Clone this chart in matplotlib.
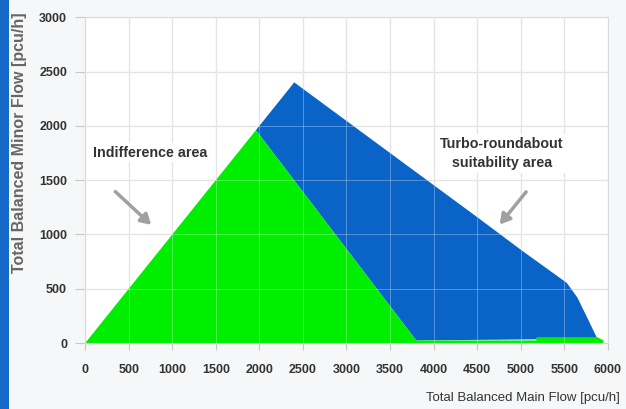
import matplotlib.pyplot as plt
from matplotlib.patches import Rectangle

# Region outlines (main flow, minor flow) in pcu/h
green_x = [0, 1960, 3800, 5180, 5180, 5880, 5950, 5950, 0]
green_y = [0, 1960, 25, 25, 55, 55, 25, 0, 0]

blue_x = [1960, 2400, 3500, 4500, 5000, 5530, 5650, 5760, 5880, 3800]
blue_y = [1960, 2400, 1750, 1160, 860, 554, 420, 240, 40, 25]

x_ticks = [0, 500, 1000, 1500, 2000, 2500, 3000, 3500, 4000, 4500, 5000, 5500, 6000]
y_ticks = [0, 500, 1000, 1500, 2000, 2500, 3000]

green = "#00ee00"
blue = "#0a64c8"

plt.rcParams['font.family'] = ['Liberation Sans', 'DejaVu Sans']

fig = plt.figure(figsize=(6.26, 4.09), dpi=100, facecolor="#f6f7f8")
ax = fig.add_axes([0.136, 0.161, 0.835, 0.797])

# blue bar on the left edge of the slide
fig.patches.append(Rectangle((0, 0), 9 / 626, 1, transform=fig.transFigure,
                             facecolor="#1669c9", edgecolor="none"))

ax.fill(blue_x, blue_y, color=blue, lw=0, zorder=2)
ax.fill(green_x, green_y, color=green, lw=0, zorder=2)

ax.set_xlim(0, 6000)
ax.set_ylim(0, 3000)
ax.set_xticks(x_ticks)
ax.set_yticks(y_ticks)
ax.grid(True, color="#dadada", lw=0.9, zorder=1)
ax.set_axisbelow(True)
for s in ax.spines.values():
    s.set_color("#dadada")
ax.tick_params(axis="both", colors="#c8c8c8", labelcolor="#333333", labelsize=9)
ax.tick_params(axis="y", length=7, pad=6)
ax.tick_params(axis="x", length=5, pad=10)
for lab in ax.get_xticklabels() + ax.get_yticklabels():
    lab.set_fontweight("bold")

# grid lines show through the fills slightly in the original
for xv in x_ticks[1:-1]:
    ax.axvline(xv, color="white", lw=0.6, alpha=0.35, zorder=3)
for yv in y_ticks[1:-1]:
    ax.axhline(yv, color="white", lw=0.6, alpha=0.35, zorder=3)

box = dict(facecolor="white", edgecolor="none", pad=2)
ax.text(746, 1754, "Indifference area", ha="center", va="center", fontsize=10.3,
        fontweight="bold", color="#333333", bbox=box, zorder=4)
ax.text(4784, 1745, "Turbo-roundabout\nsuitability area", ha="center", va="center",
        fontsize=10.3, fontweight="bold", color="#333333", linespacing=1.45,
        bbox=box, zorder=4)

arrow = dict(arrowstyle="-|>,head_length=0.6,head_width=0.35", color="#a0a0a0", lw=2.5)
ax.annotate("", xy=(782, 1071), xytext=(323, 1412), arrowprops=arrow, zorder=4)
ax.annotate("", xy=(4738, 1071), xytext=(5082, 1412), arrowprops=arrow, zorder=4)

fig.text(20 / 626, 1 - 143 / 409, "Total Balanced Minor Flow [pcu/h]", rotation=90,
         ha="center", va="center", fontsize=11.5, fontweight="bold", color="#666666")
fig.text(620 / 626, 1 - 398 / 409, "Total Balanced Main Flow [pcu/h]",
         ha="right", va="center", fontsize=9.5, color="#333333")

fig.savefig("out.png", dpi=100, facecolor=fig.get_facecolor())
